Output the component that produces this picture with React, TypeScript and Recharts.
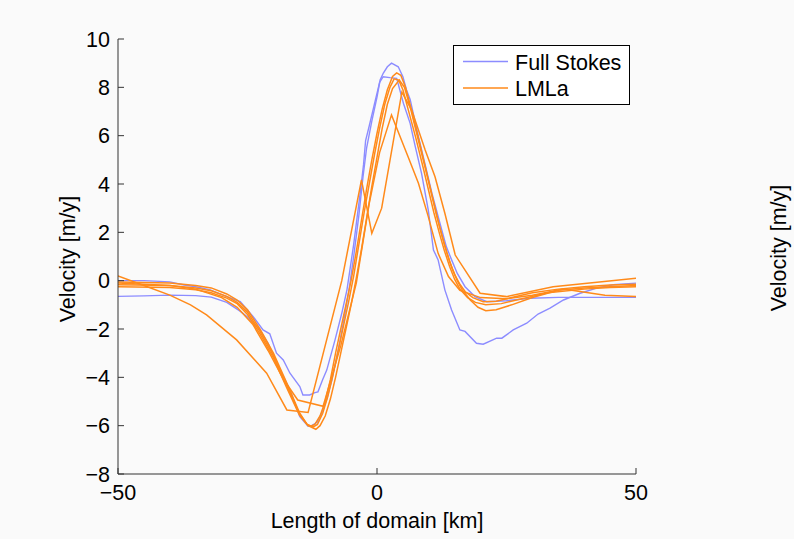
import React from 'react';
import { LineChart, Line, XAxis, YAxis, Legend } from 'recharts';

// x [km], velocity [m/y]
const fullStokesA = [
  [-50, 0.0], [-45, 0.0], [-40, -0.05], [-37.5, -0.17], [-35, -0.25], [-32.2, -0.38],
  [-29, -0.66], [-26.4, -0.87], [-23.9, -1.49], [-22, -2.04], [-20.7, -2.2], [-19.4, -3.0],
  [-18.1, -3.28], [-16.8, -3.83], [-14.9, -4.38], [-14.3, -4.73], [-13, -4.73], [-12, -4.63],
  [-11.4, -4.6], [-10.5, -4.1], [-9.7, -3.7], [-8.1, -2.45], [-6.8, -1.35], [-5.8, -0.38],
  [-4.5, 1.5], [-3.2, 3.7], [-2.6, 4.8], [-2.2, 5.8], [-1.5, 6.4], [-0.5, 7.3], [0.5, 8.2],
  [1.2, 8.44], [2.5, 8.4], [3.8, 8.37], [5.1, 7.34], [6.4, 6.51], [7.4, 5.54], [8.6, 4.44],
  [9.9, 2.92], [10.9, 1.27], [11.8, 0.86], [13.1, -0.38], [14.4, -1.21], [16, -2.04],
  [17, -2.1], [19.2, -2.59], [20.5, -2.63], [23.1, -2.38], [24.1, -2.38], [26.3, -2.04],
  [28.9, -1.76], [31.1, -1.38], [33.4, -1.14], [36, -0.8], [39.2, -0.52], [42.4, -0.31],
  [45.6, -0.17], [50, -0.1],
];

const fullStokesB = [
  [-50, -0.65], [-45, -0.63], [-40, -0.6], [-35, -0.62], [-32, -0.68], [-29, -0.9],
  [-26.5, -1.25], [-25, -1.5], [-22.6, -2.04], [-21, -2.6], [-19.4, -3.42], [-18, -4.0],
  [-16.8, -4.52], [-14.9, -5.63], [-13.3, -6.02], [-12.6, -6.0], [-11.5, -5.85], [-10.7, -5.49],
  [-9.7, -4.9], [-8.7, -4.1], [-7.9, -3.3], [-7.1, -2.45], [-6.3, -1.5], [-5.5, -0.52],
  [-4.5, 1.0], [-3.5, 2.7], [-2.7, 4.3], [-2.0, 5.5], [-1.0, 6.6], [0, 7.6], [0.6, 8.3],
  [1.2, 8.58], [2, 8.85], [2.8, 9.0], [4.1, 8.85], [5.0, 8.44], [5.7, 7.89], [6.4, 7.5],
  [8, 5.96], [9.3, 4.8], [10.6, 3.62], [12.5, 2.1], [13.4, 1.4], [14.4, 0.86], [15.5, 0.3],
  [17, -0.25], [18.9, -0.66], [21.2, -0.87], [25, -0.83], [29.5, -0.73], [35, -0.69], [50, -0.69],
];

const lmlaCoarse = [
  [-50, 0.2], [-45, -0.2], [-40, -0.6], [-36, -1.0], [-32.9, -1.42], [-27.1, -2.45],
  [-21.3, -3.83], [-17.4, -5.35], [-13.3, -5.45], [-6.8, 0.0], [-3.0, 4.17], [-1.0, 1.96],
  [0.9, 3.0], [4.8, 7.8], [6.7, 7.06], [9.3, 5.41], [11.2, 4.3], [13.1, 2.79], [15.1, 1.06],
  [19.9, -0.52], [25, -0.66], [34, -0.25], [50, 0.1],
];

const lmlaKinked = [
  [-50, -0.1], [-40, -0.2], [-35, -0.35], [-30, -0.7], [-27, -1.1], [-24, -1.8], [-21, -2.9],
  [-18, -4.1], [-15.3, -4.94], [-10.4, -5.2], [-7, -2.7], [-4, -0.1], [-1.5, 3.2], [0.5, 5.3],
  [2.8, 6.86], [6.0, 5.13], [8.0, 4.03], [9.9, 2.65], [11.8, 1.13], [13.8, 0.17], [16, -0.4],
  [20, -0.7], [25, -0.75], [30, -0.6], [36, -0.35], [44, -0.6], [50, -0.66],
];

const lmlaFine1 = [
  [-50, -0.05], [-40, -0.1], [-35, -0.2], [-32, -0.3], [-29, -0.55], [-27, -0.8], [-25, -1.2],
  [-22.6, -2.0], [-20, -3.0], [-17.5, -4.2], [-15, -5.45], [-13.5, -5.95], [-12.8, -6.02],
  [-12, -5.95], [-11, -5.6], [-10, -5.0], [-9, -4.1], [-8, -3.0], [-7, -2.0], [-6, -1.0],
  [-5, 0.0], [-4, 1.2], [-3, 2.5], [-2, 3.8], [-1, 5.0], [0, 6.1], [1, 7.1], [2, 7.9],
  [3, 8.45], [3.8, 8.6], [4.6, 8.5], [5.5, 8.0], [6.5, 7.2], [8, 5.9], [9, 5.0], [10, 4.1],
  [11, 3.2], [12, 2.3], [13, 1.5], [14, 0.8], [15, 0.25], [16, -0.15], [17, -0.45],
  [18.5, -0.7], [20.5, -0.87], [23, -0.85], [26, -0.7], [30, -0.5], [35, -0.35], [40, -0.25],
  [45, -0.18], [50, -0.15],
];

const lmlaFine2 = [
  [-50, -0.17], [-40, -0.2], [-35, -0.3], [-32, -0.42], [-29, -0.65], [-27, -0.9], [-25, -1.3],
  [-22.6, -2.1], [-20, -3.1], [-17.5, -4.3], [-15, -5.5], [-13.5, -5.95], [-12.3, -6.05],
  [-11.5, -5.95], [-10.5, -5.5], [-9.5, -4.8], [-8.5, -3.9], [-7.5, -2.9], [-6.5, -1.9],
  [-5.5, -0.9], [-4.5, 0.2], [-3.5, 1.5], [-2.5, 2.8], [-1.5, 4.0], [-0.5, 5.2], [0.5, 6.3],
  [1.5, 7.3], [2.5, 8.0], [3.3, 8.35], [4.2, 8.3], [5, 7.9], [6, 7.1], [7.5, 5.9], [9, 4.6],
  [10, 3.7], [11, 2.8], [12, 2.0], [13, 1.25], [14, 0.6], [15, 0.05], [16, -0.35],
  [17.5, -0.7], [19, -0.9], [21, -1.0], [24, -0.95], [28, -0.75], [33, -0.5], [40, -0.35],
  [45, -0.28], [50, -0.25],
];

const lmlaFine3 = [
  [-50, -0.25], [-40, -0.28], [-35, -0.38], [-32, -0.5], [-29, -0.72], [-27, -0.95],
  [-25, -1.4], [-22.6, -2.2], [-20, -3.2], [-17.5, -4.4], [-15, -5.55], [-13.3, -6.0],
  [-11.8, -6.15], [-11, -6.0], [-10, -5.6], [-9, -4.9], [-8, -4.0], [-7, -3.0], [-6, -2.0],
  [-5, -1.0], [-4, 0.1], [-3, 1.3], [-2, 2.6], [-1, 3.9], [0, 5.1], [1, 6.3], [2, 7.3],
  [3, 7.95], [4.3, 8.3], [5.3, 8.0], [6.5, 7.1], [8, 5.8], [9.5, 4.5], [10.5, 3.6],
  [11.5, 2.7], [12.5, 1.9], [13.5, 1.15], [14.5, 0.5], [15.5, 0.0], [16.5, -0.4], [18, -0.8],
  [19.5, -1.1], [21, -1.24], [23, -1.2], [26, -1.0], [30, -0.7], [35, -0.4], [40, -0.3],
  [45, -0.25], [50, -0.2],
];

const xTicks = [-50, 0, 50];
const yTicks = [-8, -6, -4, -2, 0, 2, 4, 6, 8, 10];

const BLUE = '#8c8cff';
const ORANGE = '#ff8a1a';
const FONT = '"Liberation Sans", Arial, sans-serif';
const FS = 21.5;

const toPts = (arr: number[][]) => arr.map(([x, v]) => ({ x, v }));
const fmt = (v: number) => (v < 0 ? `\u2212${-v}` : `${v}`);

function YTick(props: any) {
  const { x, y, payload } = props;
  const ax = x + 8;
  return (
    <g>
      <line x1={ax} x2={ax + 6} y1={y} y2={y} stroke="#333" strokeWidth={1} />
      <text x={x} y={y + 7.7} textAnchor="end" fontFamily={FONT} fontSize={FS} fill="#000">
        {fmt(payload.value)}
      </text>
    </g>
  );
}

function XTick(props: any) {
  const { x, y, payload } = props;
  const ay = y - 10;
  return (
    <g>
      <line x1={x} x2={x} y1={ay} y2={ay - 6} stroke="#333" strokeWidth={1} />
      <text x={x} y={y + 15.5} textAnchor="middle" fontFamily={FONT} fontSize={FS} fill="#000">
        {fmt(payload.value)}
      </text>
    </g>
  );
}

function XLabel(props: any) {
  const vb = props.viewBox || {};
  return (
    <text x={vb.x + vb.width / 2} y={vb.y + 53.5} textAnchor="middle" fontFamily={FONT} fontSize={FS} fill="#000">
      Length of domain [km]
    </text>
  );
}

function YLabel() {
  return (
    <text
      x={68}
      y={259}
      transform="rotate(-90, 68, 259)"
      textAnchor="middle"
      dominantBaseline="central"
      fontFamily={FONT}
      fontSize={FS}
      fill="#000"
    >
      Velocity [m/y]
    </text>
  );
}

function LegendBox() {
  return (
    <div style={{ position: 'relative', width: 177, height: 60, boxSizing: 'border-box', border: '1.5px solid #000', background: '#fff' }}>
      <svg width={174} height={57} style={{ position: 'absolute', left: 0, top: 0 }}>
        <line x1={9} x2={54} y1={15.5} y2={15.5} stroke={BLUE} strokeWidth={1.5} />
        <line x1={9} x2={54} y1={42} y2={42} stroke={ORANGE} strokeWidth={1.5} />
        <text x={61} y={23.5} fontFamily={FONT} fontSize={FS} fill="#000">Full Stokes</text>
        <text x={61} y={50} fontFamily={FONT} fontSize={FS} fill="#000">LMLa</text>
      </svg>
    </div>
  );
}

export default function App() {
  return (
    <div style={{ position: 'absolute', left: 0, top: 0, width: 794, height: 539, background: '#fafafa' }}>
      <LineChart width={794} height={539} margin={{ top: 39, right: 158, bottom: 35, left: 0 }}>
        <XAxis
          type="number"
          dataKey="x"
          domain={[-50, 50]}
          ticks={xTicks}
          allowDataOverflow
          height={30}
          tickSize={0}
          tickMargin={10}
          tick={<XTick />}
          stroke="#333"
          label={<XLabel />}
        />
        <YAxis
          type="number"
          domain={[-8, 10]}
          ticks={yTicks}
          allowDataOverflow
          width={118}
          tickSize={0}
          tickMargin={8}
          tick={<YTick />}
          stroke="#333"
          label={<YLabel />}
        />
        <Legend
          layout="vertical"
          align="center"
          verticalAlign="middle"
          content={() => <LegendBox />}
          wrapperStyle={{ position: 'absolute', left: 453, top: 45, width: 177, height: 60 }}
        />
        <Line data={toPts(fullStokesA)} dataKey="v" stroke={BLUE} strokeWidth={1.4} dot={false} isAnimationActive={false} type="linear" />
        <Line data={toPts(fullStokesB)} dataKey="v" stroke={BLUE} strokeWidth={1.4} dot={false} isAnimationActive={false} type="linear" />
        <Line data={toPts(lmlaCoarse)} dataKey="v" stroke={ORANGE} strokeWidth={1.5} dot={false} isAnimationActive={false} type="linear" />
        <Line data={toPts(lmlaKinked)} dataKey="v" stroke={ORANGE} strokeWidth={1.5} dot={false} isAnimationActive={false} type="linear" />
        <Line data={toPts(lmlaFine1)} dataKey="v" stroke={ORANGE} strokeWidth={1.5} dot={false} isAnimationActive={false} type="linear" />
        <Line data={toPts(lmlaFine2)} dataKey="v" stroke={ORANGE} strokeWidth={1.5} dot={false} isAnimationActive={false} type="linear" />
        <Line data={toPts(lmlaFine3)} dataKey="v" stroke={ORANGE} strokeWidth={1.5} dot={false} isAnimationActive={false} type="linear" />
      </LineChart>
      <div
        style={{
          position: 'absolute',
          left: 779,
          top: 248,
          transform: 'translate(-50%, -50%) rotate(-90deg)',
          fontFamily: FONT,
          fontSize: FS,
          whiteSpace: 'nowrap',
          color: '#000',
        }}
      >
        Velocity [m/y]
      </div>
    </div>
  );
}
